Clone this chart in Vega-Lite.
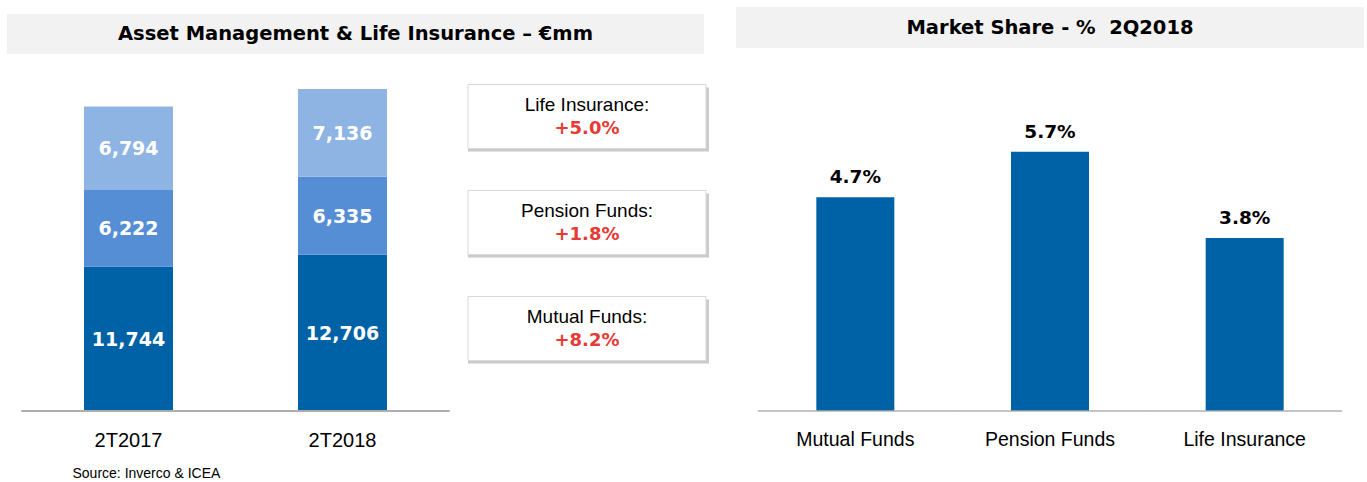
{
  "$schema": "https://vega.github.io/schema/vega-lite/v6.json",
  "background": "white",
  "padding": 7,
  "spacing": 27,
  "config": {"view": {"stroke": null}, "axis": {"grid": false}},
  "hconcat": [
    {
      "spacing": 0,
      "vconcat": [
        {
          "width": 697,
          "height": 7,
          "data": {"values": [{}]},
          "mark": {"type": "rect", "opacity": 0},
          "encoding": {}
        },
        {
          "width": 697,
          "height": 40,
          "view": {"fill": "#F2F2F2", "stroke": null},
          "data": {"values": [{"title": "Asset Management & Life Insurance – €mm"}]},
          "mark": {"type": "text", "font": "DejaVu Sans", "fontWeight": "bold", "fontSize": 19.5, "color": "#000000", "baseline": "middle"},
          "encoding": {"text": {"field": "title", "type": "nominal"}}
        },
        {
          "spacing": 3,
          "hconcat": [
            {
              "width": 457,
              "height": 357,
              "data": {"values": [
                {"period": "2T2017", "series": "Mutual Funds", "value": 11744},
                {"period": "2T2017", "series": "Pension Funds", "value": 6222},
                {"period": "2T2017", "series": "Life Insurance", "value": 6794},
                {"period": "2T2018", "series": "Mutual Funds", "value": 12706},
                {"period": "2T2018", "series": "Pension Funds", "value": 6335},
                {"period": "2T2018", "series": "Life Insurance", "value": 7136}
              ]},
              "layer": [
                {
                  "transform": [
                    {"window": [{"op": "row_number", "as": "rank"}]},
                    {"stack": "value", "groupby": ["period"], "sort": [{"field": "rank", "order": "ascending"}], "as": ["v0", "v1"]}
                  ],
                  "mark": {"type": "bar", "size": 89},
                  "encoding": {
                    "x": {"field": "period", "type": "nominal", "sort": ["2T2017", "2T2018"],
                          "scale": {"paddingInner": 0, "paddingOuter": 0.0678},
                          "axis": {"domain": false, "ticks": false, "labelAngle": 0, "labelFont": "Liberation Sans", "labelFontSize": 20, "labelColor": "#000000", "labelPadding": 19,
                                   "title": "Source: Inverco & ICEA", "titleFont": "Liberation Sans", "titleFontSize": 14, "titleFontWeight": "normal", "titleColor": "#000000",
                                   "titleAlign": "left", "titleAnchor": "start", "titleX": 65, "titleY": 62, "titleBaseline": "middle"}},
                    "y": {"field": "v0", "type": "quantitative", "scale": {"domain": [0, 29024], "nice": false}, "axis": null},
                    "y2": {"field": "v1"},
                    "color": {"field": "series", "type": "nominal",
                              "scale": {"domain": ["Mutual Funds", "Pension Funds", "Life Insurance"], "range": ["#0062A6", "#558ED5", "#8EB4E3"]},
                              "legend": null}
                  }
                },
                {
                  "transform": [
                    {"window": [{"op": "row_number", "as": "rank"}]},
                    {"stack": "value", "groupby": ["period"], "sort": [{"field": "rank", "order": "ascending"}], "as": ["v0", "v1"]},
                    {"fold": ["v0", "v1"], "as": ["edge", "pos"]}
                  ],
                  "mark": {"type": "text", "font": "DejaVu Sans", "fontWeight": "bold", "fontSize": 19, "color": "white", "baseline": "middle", "dy": 1},
                  "encoding": {
                    "x": {"field": "period", "type": "nominal", "sort": ["2T2017", "2T2018"]},
                    "y": {"field": "pos", "type": "quantitative", "aggregate": "mean"},
                    "detail": {"field": "series", "type": "nominal"},
                    "text": {"field": "value", "type": "quantitative", "format": ","}
                  }
                },
                {
                  "mark": {"type": "tick", "color": "#ADADAD", "size": 214, "thickness": 2},
                  "encoding": {
                    "x": {"field": "period", "type": "nominal", "sort": ["2T2017", "2T2018"]},
                    "y": {"datum": 0, "type": "quantitative"}
                  }
                }
              ]
            },
            {
              "width": 238,
              "height": 337,
              "data": {"values": [
                {"series": "Life Insurance", "label": "Life Insurance:", "growth": "+5.0%"},
                {"series": "Pension Funds", "label": "Pension Funds:", "growth": "+1.8%"},
                {"series": "Mutual Funds", "label": "Mutual Funds:", "growth": "+8.2%"}
              ]},
              "layer": [
                {
                  "mark": {"type": "rect", "color": "#B5B5B5", "opacity": 0.7, "xOffset": 3, "x2Offset": 3, "yOffset": 3, "y2Offset": 3},
                  "encoding": {
                    "y": {"field": "series", "type": "nominal", "sort": ["Life Insurance", "Pension Funds", "Mutual Funds"],
                          "scale": {"paddingInner": 0.396, "paddingOuter": 0.2877}, "axis": null}
                  }
                },
                {
                  "mark": {"type": "rect", "fill": "white", "stroke": "#D9D9D9", "strokeWidth": 1},
                  "encoding": {
                    "y": {"field": "series", "type": "nominal", "sort": ["Life Insurance", "Pension Funds", "Mutual Funds"]}
                  }
                },
                {
                  "mark": {"type": "text", "font": "Liberation Sans", "fontSize": 19, "color": "#000000", "baseline": "middle"},
                  "encoding": {
                    "y": {"field": "series", "type": "nominal", "sort": ["Life Insurance", "Pension Funds", "Mutual Funds"], "bandPosition": 0.32},
                    "text": {"field": "label", "type": "nominal"}
                  }
                },
                {
                  "mark": {"type": "text", "font": "DejaVu Sans", "fontWeight": "bold", "fontSize": 18, "color": "#E63A35", "baseline": "middle"},
                  "encoding": {
                    "y": {"field": "series", "type": "nominal", "sort": ["Life Insurance", "Pension Funds", "Mutual Funds"], "bandPosition": 0.7},
                    "text": {"field": "growth", "type": "nominal"}
                  }
                }
              ]
            }
          ]
        }
      ]
    },
    {
      "spacing": 6,
      "vconcat": [
        {
          "width": 628,
          "height": 41,
          "view": {"fill": "#F2F2F2", "stroke": null},
          "data": {"values": [{"title": "Market Share - % \u00a02Q2018"}]},
          "mark": {"type": "text", "font": "DejaVu Sans", "fontWeight": "bold", "fontSize": 19.5, "color": "#000000", "baseline": "middle"},
          "encoding": {"text": {"field": "title", "type": "nominal"}}
        },
        {
          "width": 628,
          "height": 357,
          "data": {"values": [
            {"category": "Mutual Funds", "share": 0.047},
            {"category": "Pension Funds", "share": 0.057},
            {"category": "Life Insurance", "share": 0.038}
          ]},
          "layer": [
            {
              "mark": {"type": "bar", "color": "#0062A6", "size": 78},
              "encoding": {
                "x": {"field": "category", "type": "nominal", "sort": ["Mutual Funds", "Pension Funds", "Life Insurance"],
                      "scale": {"paddingInner": 0, "paddingOuter": 0.113},
                      "axis": {"title": null, "domain": false, "ticks": false, "labelAngle": 0, "labelFont": "Liberation Sans", "labelFontSize": 19.5, "labelColor": "#000000", "labelPadding": 19}},
                "y": {"field": "share", "type": "quantitative", "scale": {"domain": [0, 0.078462], "nice": false}, "axis": null}
              }
            },
            {
              "mark": {"type": "text", "font": "DejaVu Sans", "fontWeight": "bold", "fontSize": 18.5, "color": "#000000", "baseline": "middle", "dy": -20},
              "encoding": {
                "x": {"field": "category", "type": "nominal", "sort": ["Mutual Funds", "Pension Funds", "Life Insurance"]},
                "y": {"field": "share", "type": "quantitative"},
                "text": {"field": "share", "type": "quantitative", "format": ".1%"}
              }
            },
            {
              "mark": {"type": "tick", "color": "#ADADAD", "size": 195, "thickness": 2},
              "encoding": {
                "x": {"field": "category", "type": "nominal", "sort": ["Mutual Funds", "Pension Funds", "Life Insurance"]},
                "y": {"datum": 0, "type": "quantitative"}
              }
            }
          ]
        }
      ]
    }
  ]
}
